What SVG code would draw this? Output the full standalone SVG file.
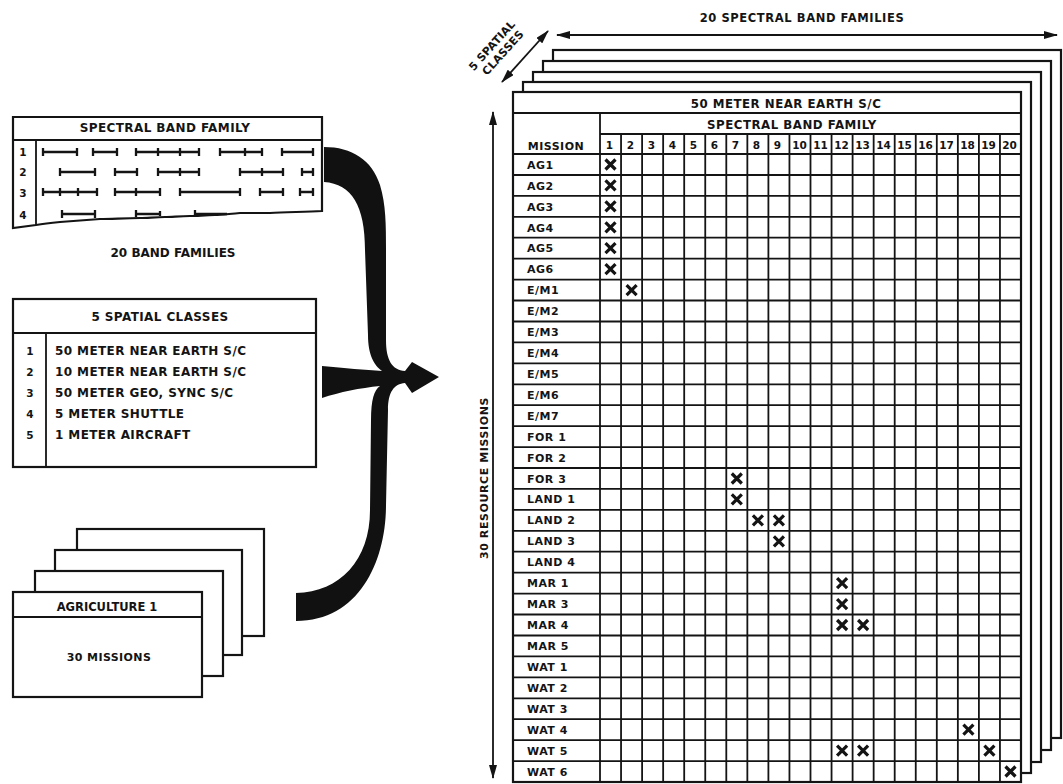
<svg xmlns="http://www.w3.org/2000/svg" width="1063" height="784" viewBox="0 0 1063 784">
<style>
.t{font-family:'DejaVu Sans','Liberation Sans',Arial,sans-serif;font-weight:700;fill:#141414;letter-spacing:0.4px}
.s12{font-size:12px}
.s11{font-size:11px;letter-spacing:0.5px}
.h{font-size:11.8px;letter-spacing:0.5px}
.n{font-size:10.5px;letter-spacing:0;text-anchor:middle}
.c{text-anchor:middle}
.ln{fill:none;stroke:#141414;stroke-width:1.8}
.bx{fill:#fff;stroke:#141414;stroke-width:2.2}
.bar{fill:none;stroke:#141414;stroke-width:2.3}
.ar{fill:none;stroke:#141414;stroke-width:1.8;marker-start:url(#ah);marker-end:url(#ah)}
</style>
<defs>
<marker id="ah" markerUnits="userSpaceOnUse" markerWidth="14" markerHeight="8" refX="13" refY="4" orient="auto-start-reverse">
<path d="M0,0 L14,4 L0,8 Z" fill="#141414"/>
</marker>
<path id="xm" d="M-5,-5 L5,5 M5,-5 L-5,5" fill="none" stroke="#141414" stroke-width="3.2"/>
</defs>
<rect width="1063" height="784" fill="#fff"/>

<g id="band-family-box">
<path class="bx" d="M13,228 V117 H322 V211 C305,212 285,212 270,213 C255,213 245,213 240,213 C228,214 220,215 215,215 C205,215 198,216 190,216 C180,216 172,217 165,217 C155,217 148,218 140,218 C125,218 112,219 100,219 C85,220 72,221 60,222 C50,223 42,224 36,225 L13,228 Z"/>
<path class="ln" d="M13,140 H322 M36,140 V225"/>
<text class="t s12 c" x="165" y="132">SPECTRAL BAND FAMILY</text>
<text class="t n" x="23" y="156">1</text>
<text class="t n" x="23" y="176">2</text>
<text class="t n" x="23" y="197">3</text>
<text class="t n" x="23" y="219">4</text>
<path class="bar" d="M43,152H77M43,148V156M77,148V156 M93,152H117M93,148V156M117,148V156 M136,152H199M136,148V156M158,148V156M180,148V156M199,148V156 M220,152H262M220,148V156M245,148V156M262,148V156 M282,152H313M282,148V156M313,148V156
M60,172H95M60,168V176M95,168V176 M115,172H137M115,168V176M137,168V176 M158,172H199M158,168V176M180,168V176M199,168V176 M240,172H283M240,168V176M262,168V176M283,168V176 M302,172H313M302,168V176M313,168V176
M43,192H97M43,188V196M60,188V196M78,188V196M97,188V196 M115,192H160M115,188V196M136,188V196M160,188V196 M180,192H240M180,188V196M240,188V196 M260,192H283M260,188V196M283,188V196 M300,192H313M300,188V196M313,188V196
M62,214H95M62,210V218M95,210V218 M136,214H160M136,210V217M160,211V216 M195,214H227M195,210V217"/>
<text class="t s12 c" x="173" y="257" style="letter-spacing:0">20 BAND FAMILIES</text>
</g>

<g id="spatial-classes-box">
<rect class="bx" x="13" y="299" width="303" height="168"/>
<path class="ln" d="M13,333 H316 M46,333 V467"/>
<text class="t s12 c" x="160" y="321">5 SPATIAL CLASSES</text>
<text class="t n" x="30" y="355">1</text>
<text class="t n" x="30" y="376">2</text>
<text class="t n" x="30" y="397">3</text>
<text class="t n" x="30" y="418">4</text>
<text class="t n" x="30" y="439">5</text>
<text class="t s12" x="55" y="355">50 METER NEAR EARTH S/C</text>
<text class="t s12" x="55" y="376">10 METER NEAR EARTH S/C</text>
<text class="t s12" x="55" y="397">50 METER GEO, SYNC S/C</text>
<text class="t s12" x="55" y="418">5 METER SHUTTLE</text>
<text class="t s12" x="55" y="439">1 METER AIRCRAFT</text>
</g>

<g id="missions-stack">
<rect class="bx" x="77" y="529" width="187" height="107"/>
<rect class="bx" x="55" y="550" width="187" height="105"/>
<rect class="bx" x="35" y="571" width="188" height="105"/>
<rect class="bx" x="13" y="592" width="189" height="105"/>
<path class="ln" d="M13,617 H202"/>
<text class="t c" style="font-size:11.5px;letter-spacing:0" x="107" y="611">AGRICULTURE 1</text>
<text class="t c" style="font-size:11px" x="109" y="661">30 MISSIONS</text>
</g>

<g id="connectors">
<path id="brace-arrow" fill="#111" d="M324,147 C352,147 372,160 380,185 C386,205 386,225 386,250 L386,340 C386,360 392,370 405,371 L412,362 L439,377 L412,393 L405,383 C394,384 388,392 388,410 L386,505 C386,560 360,621 296,621 L296,593 C340,592 370,560 370,510 L371,420 C371,400 374,390 380,386 C360,388 340,392 322,398 L322,366 C345,368 365,370 382,371 C374,365 368,355 368,335 L365,250 C365,206 352,184 324,182 Z"/>
<path class="ar" d="M557,35 H1057"/>
<path class="ar" d="M502,82 L548,31"/>
<path class="ar" d="M493,112 V778"/>
</g>

<g id="axis-labels">
<text class="t c" style="font-size:11.5px;letter-spacing:0.6px" x="802" y="22">20 SPECTRAL BAND FAMILIES</text>
<g transform="translate(497,50) rotate(-48)">
<text class="t c" style="font-size:11px;letter-spacing:0.2px" x="0" y="-3">5 SPATIAL</text>
<text class="t c" style="font-size:11px;letter-spacing:0.2px" x="2" y="10">CLASSES</text>
</g>
<text class="t c" style="font-size:11px;letter-spacing:0.6px" transform="translate(488,478) rotate(-90)">30 RESOURCE MISSIONS</text>
</g>

<g id="matrix-pages">
<rect class="bx" x="553" y="50" width="508" height="688"/>
<rect class="bx" x="543" y="61" width="508" height="689"/>
<rect class="bx" x="533" y="72" width="508" height="690"/>
<rect class="bx" x="523" y="82" width="508" height="691"/>
<rect class="bx" x="513" y="92" width="508" height="690"/>
</g>

<g id="matrix-front">
<path class="ln" d="M513,113H1021 M600,134H1021 M513,154H1021 M513,175H1021 M513,195.9H1021 M513,216.8H1021 M513,237.7H1021 M513,258.7H1021 M513,279.6H1021 M513,300.5H1021 M513,321.5H1021 M513,342.4H1021 M513,363.3H1021 M513,384.3H1021 M513,405.2H1021 M513,426.1H1021 M513,447.1H1021 M513,468H1021 M513,488.9H1021 M513,509.9H1021 M513,530.8H1021 M513,551.7H1021 M513,572.7H1021 M513,593.6H1021 M513,614.5H1021 M513,635.5H1021 M513,656.4H1021 M513,677.3H1021 M513,698.3H1021 M513,719.2H1021 M513,740.1H1021 M513,761.1H1021
M600,113V782 M621.05,134V782 M642.1,134V782 M663.15,134V782 M684.2,134V782 M705.25,134V782 M726.3,134V782 M747.35,134V782 M768.4,134V782 M789.45,134V782 M810.5,134V782 M831.55,134V782 M852.6,134V782 M873.65,134V782 M894.7,134V782 M915.75,134V782 M936.8,134V782 M957.85,134V782 M978.9,134V782 M999.95,134V782"/>
<text class="t h c" x="786" y="108">50 METER NEAR EARTH S/C</text>
<text class="t h c" x="792" y="129">SPECTRAL BAND FAMILY</text>
<text class="t s11 c" x="556" y="150">MISSION</text>
<g class="t n">
<text x="609.5" y="149">1</text><text x="630.5" y="149">2</text><text x="651.5" y="149">3</text><text x="672.5" y="149">4</text><text x="693.5" y="149">5</text><text x="714.5" y="149">6</text><text x="735.5" y="149">7</text><text x="756.5" y="149">8</text><text x="777.5" y="149">9</text><text x="799.5" y="149">10</text><text x="820.5" y="149">11</text><text x="841.5" y="149">12</text><text x="862.5" y="149">13</text><text x="883.5" y="149">14</text><text x="904.5" y="149">15</text><text x="925.5" y="149">16</text><text x="946.5" y="149">17</text><text x="967.5" y="149">18</text><text x="988.5" y="149">19</text><text x="1009.5" y="149">20</text>
</g>
<g class="t s11">
<text x="527" y="169">AG1</text>
<text x="527" y="190">AG2</text>
<text x="527" y="211">AG3</text>
<text x="527" y="232">AG4</text>
<text x="527" y="252">AG5</text>
<text x="527" y="273">AG6</text>
<text x="527" y="294">E/M1</text>
<text x="527" y="315">E/M2</text>
<text x="527" y="336">E/M3</text>
<text x="527" y="357">E/M4</text>
<text x="527" y="378">E/M5</text>
<text x="527" y="399">E/M6</text>
<text x="527" y="420">E/M7</text>
<text x="527" y="441">FOR 1</text>
<text x="527" y="462">FOR 2</text>
<text x="527" y="483">FOR 3</text>
<text x="527" y="503">LAND 1</text>
<text x="527" y="524">LAND 2</text>
<text x="527" y="545">LAND 3</text>
<text x="527" y="566">LAND 4</text>
<text x="527" y="587">MAR 1</text>
<text x="527" y="608">MAR 3</text>
<text x="527" y="629">MAR 4</text>
<text x="527" y="650">MAR 5</text>
<text x="527" y="671">WAT 1</text>
<text x="527" y="692">WAT 2</text>
<text x="527" y="713">WAT 3</text>
<text x="527" y="734">WAT 4</text>
<text x="527" y="755">WAT 5</text>
<text x="527" y="776">WAT 6</text>
</g>
<g id="marks">
<use href="#xm" x="610.5" y="164.5"/><use href="#xm" x="610.5" y="185.4"/><use href="#xm" x="610.5" y="206.3"/><use href="#xm" x="610.5" y="227.3"/><use href="#xm" x="610.5" y="248.2"/><use href="#xm" x="610.5" y="269.1"/>
<use href="#xm" x="631.6" y="290.1"/>
<use href="#xm" x="736.8" y="478.5"/><use href="#xm" x="736.8" y="499.4"/>
<use href="#xm" x="757.9" y="520.3"/><use href="#xm" x="778.9" y="520.3"/>
<use href="#xm" x="778.9" y="541.3"/>
<use href="#xm" x="842.1" y="583.1"/><use href="#xm" x="842.1" y="604.1"/>
<use href="#xm" x="842.1" y="625"/><use href="#xm" x="863.1" y="625"/>
<use href="#xm" x="968.4" y="729.7"/>
<use href="#xm" x="842.1" y="750.6"/><use href="#xm" x="863.1" y="750.6"/><use href="#xm" x="989.4" y="750.6"/>
<use href="#xm" x="1010.5" y="771.5"/>
</g>
</g>
</svg>
